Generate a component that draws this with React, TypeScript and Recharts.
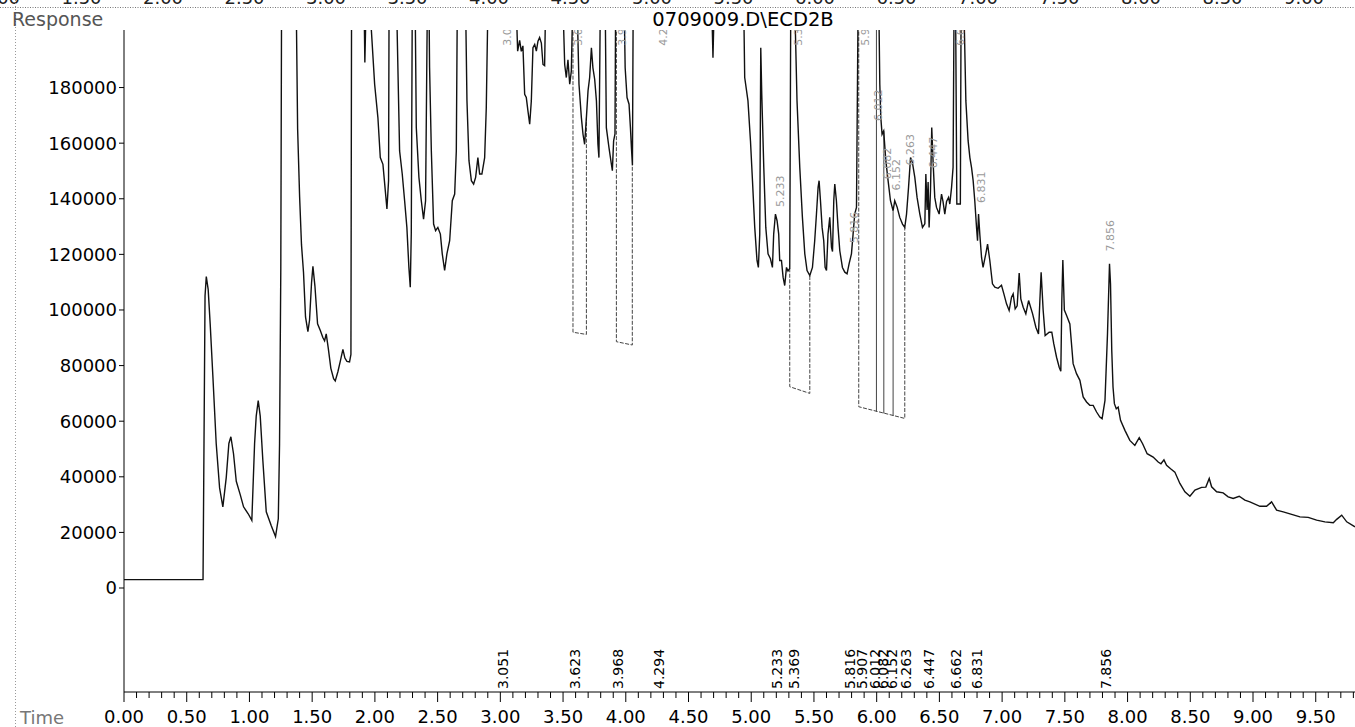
import { ComposedChart, Line, Scatter, XAxis, YAxis } from "recharts";

// ECD2B trace: retention time (min) and detector response
const traceTime = [
  0.0, 0.63, 0.646, 0.656, 0.671, 0.687, 0.708, 0.735, 0.762, 0.788,
  0.815, 0.836, 0.852, 0.873, 0.895, 0.927, 0.953, 0.99, 1.019, 1.041,
  1.054, 1.07, 1.086, 1.107, 1.134, 1.174, 1.208, 1.23, 1.24, 1.25,
  1.256, 1.312, 1.373, 1.384, 1.4, 1.415, 1.431, 1.447, 1.466, 1.479,
  1.495, 1.506, 1.522, 1.543, 1.565, 1.585, 1.599, 1.612, 1.628, 1.649,
  1.671, 1.684, 1.705, 1.724, 1.745, 1.761, 1.777, 1.798, 1.809, 1.814,
  1.862, 1.914, 1.92, 1.93, 1.941, 1.966, 1.998, 2.024, 2.043, 2.064,
  2.077, 2.096, 2.109, 2.113, 2.141, 2.173, 2.197, 2.218, 2.237, 2.255,
  2.271, 2.282, 2.29, 2.298, 2.309, 2.321, 2.33, 2.351, 2.37, 2.388,
  2.404, 2.415, 2.425, 2.436, 2.45, 2.468, 2.484, 2.502, 2.522, 2.537,
  2.556, 2.574, 2.596, 2.617, 2.636, 2.649, 2.657, 2.691, 2.723, 2.734,
  2.75, 2.769, 2.787, 2.803, 2.821, 2.835, 2.853, 2.875, 2.888, 2.901,
  3.051, 3.126, 3.138, 3.154, 3.167, 3.18, 3.194, 3.207, 3.22, 3.234,
  3.247, 3.26, 3.274, 3.287, 3.3, 3.313, 3.327, 3.34, 3.353, 3.361,
  3.433, 3.499, 3.513, 3.526, 3.539, 3.553, 3.566, 3.577, 3.592, 3.612,
  3.627, 3.646, 3.659, 3.672, 3.686, 3.699, 3.712, 3.726, 3.738, 3.752,
  3.766, 3.778, 3.786, 3.797, 3.816, 3.836, 3.845, 3.866, 3.885, 3.893,
  3.903, 3.914, 3.919, 3.968, 3.987, 3.995, 4.01, 4.026, 4.037, 4.045,
  4.053, 4.059, 4.294, 4.685, 4.695, 4.705, 4.829, 4.94, 4.948, 4.974,
  4.994, 5.01, 5.028, 5.046, 5.057, 5.068, 5.076, 5.084, 5.1, 5.116,
  5.134, 5.153, 5.169, 5.179, 5.193, 5.206, 5.219, 5.227, 5.241, 5.254,
  5.267, 5.281, 5.293, 5.307, 5.315, 5.331, 5.347, 5.365, 5.387, 5.408,
  5.427, 5.445, 5.467, 5.488, 5.506, 5.52, 5.533, 5.541, 5.552, 5.565,
  5.578, 5.589, 5.6, 5.612, 5.626, 5.64, 5.648, 5.658, 5.666, 5.679,
  5.692, 5.706, 5.727, 5.746, 5.764, 5.78, 5.799, 5.812, 5.825, 5.839,
  5.852, 5.907, 6.017, 6.025, 6.033, 6.043, 6.056, 6.073, 6.091, 6.11,
  6.131, 6.144, 6.163, 6.184, 6.206, 6.224, 6.238, 6.254, 6.27, 6.285,
  6.304, 6.322, 6.344, 6.365, 6.384, 6.392, 6.402, 6.41, 6.418, 6.429,
  6.439, 6.45, 6.463, 6.477, 6.498, 6.517, 6.529, 6.543, 6.557, 6.573,
  6.583, 6.597, 6.609, 6.617, 6.623, 6.629, 6.639, 6.667, 6.673, 6.683,
  6.695, 6.711, 6.729, 6.743, 6.756, 6.769, 6.782, 6.796, 6.804, 6.812,
  6.822, 6.836, 6.848, 6.87, 6.884, 6.902, 6.923, 6.942, 6.968, 6.995,
  7.014, 7.035, 7.056, 7.075, 7.088, 7.104, 7.12, 7.136, 7.149, 7.168,
  7.189, 7.211, 7.243, 7.269, 7.29, 7.301, 7.311, 7.327, 7.343, 7.375,
  7.396, 7.412, 7.434, 7.455, 7.468, 7.476, 7.484, 7.496, 7.514, 7.54,
  7.566, 7.593, 7.62, 7.646, 7.673, 7.699, 7.726, 7.753, 7.779, 7.797,
  7.82, 7.84, 7.856, 7.864, 7.874, 7.884, 7.895, 7.91, 7.925, 7.944,
  7.979, 8.018, 8.058, 8.093, 8.12, 8.156, 8.204, 8.244, 8.266, 8.29,
  8.311, 8.343, 8.377, 8.417, 8.457, 8.497, 8.537, 8.59, 8.624, 8.651,
  8.67, 8.71, 8.762, 8.802, 8.842, 8.89, 8.935, 8.975, 9.055, 9.108,
  9.148, 9.188, 9.241, 9.308, 9.374, 9.44, 9.507, 9.573, 9.64, 9.667,
  9.707, 9.747, 9.813,
];

const traceResponse = [
  3000, 3000, 105000, 112000, 107400, 95000, 76600, 52000, 36000, 29200,
  39700, 52000, 54400, 48300, 38400, 33500, 29200, 26700, 24300, 52000,
  61800, 67400, 61800, 45800, 27400, 22400, 18500, 24900, 52000, 115000,
  210000, 400000, 210000, 165200, 140600, 123400, 113500, 97500, 92200, 96300,
  109800, 115700, 108600, 95000, 92600, 90100, 88900, 91400, 86400, 79000,
  75300, 74500, 77800, 81500, 85800, 82700, 81500, 81300, 84000, 210000,
  350000, 210000, 189000, 210000, 250000, 205000, 181200, 169200, 154800, 152400,
  145900, 136300, 146500, 210000, 300000, 210000, 157200, 148900, 139300, 129700,
  115300, 108200, 127400, 210000, 260000, 210000, 165600, 147700, 139300, 132700,
  139300, 194300, 240000, 187100, 157200, 130900, 128500, 129700, 127300, 120200,
  114200, 120200, 124900, 139300, 141700, 157200, 210000, 320000, 210000, 175200,
  153700, 146500, 145300, 147700, 154800, 148900, 148900, 154800, 172800, 210000,
  400000, 210000, 193100, 197000, 193000, 195000, 177600, 176400, 171600, 166800,
  175200, 194300, 195500, 193100, 196700, 198000, 196000, 188300, 187900, 210000,
  300000, 210000, 188300, 183600, 190000, 181200, 186000, 210000, 260000, 210000,
  181200, 169200, 163200, 159600, 169200, 178800, 183600, 194300, 187100, 183000,
  175200, 159600, 154800, 210000, 280000, 210000, 165600, 158400, 152500, 150100,
  160800, 163300, 210000, 320000, 210000, 187100, 176400, 174000, 165600, 158400,
  152000, 210000, 450000, 210000, 190700, 210000, 350000, 210000, 183600, 175200,
  160800, 146500, 129700, 117800, 115300, 127300, 194300, 177600, 151300, 129700,
  120200, 118400, 115300, 127300, 134500, 132100, 127300, 117800, 117800, 111800,
  108800, 115300, 114000, 115000, 210000, 260000, 210000, 175200, 151300, 133300,
  120200, 114200, 112400, 115300, 124900, 134500, 144100, 146500, 139300, 129700,
  124900, 115300, 114200, 127300, 133300, 122500, 121000, 139300, 145300, 139300,
  129700, 121300, 115300, 113600, 113000, 116600, 120200, 127300, 134500, 136900,
  210000, 450000, 210000, 181200, 169200, 163200, 164400, 153700, 146500, 139300,
  135700, 139300, 137000, 133300, 130900, 129700, 134500, 144100, 154800, 153000,
  147700, 140500, 134500, 129700, 131000, 148900, 136000, 146000, 129700, 143000,
  165600, 153000, 140500, 136900, 134500, 141700, 139000, 134500, 139000, 140500,
  138100, 144100, 151300, 210000, 260000, 210000, 138100, 138100, 210000, 300000,
  210000, 175200, 160800, 154800, 151300, 146500, 139300, 129700, 124900, 134500,
  127300, 118900, 115300, 120200, 123700, 117800, 109400, 108200, 107800, 108900,
  105800, 102200, 99800, 104600, 105800, 100400, 101500, 113300, 104000, 101000,
  98600, 103400, 98600, 93800, 91400, 103400, 113600, 100000, 90800, 92000,
  92000, 87800, 83000, 79400, 78000, 103400, 118000, 100000, 98000, 95000,
  80700, 77100, 74700, 68700, 66900, 65700, 65700, 63300, 61500, 60900,
  67500, 91400, 116600, 109400, 85400, 72300, 66300, 64500, 65100, 60300,
  56700, 53100, 51300, 54100, 51900, 48300, 47100, 45300, 44700, 46100,
  44100, 42900, 41700, 37600, 34600, 33000, 35200, 36200, 36300, 39400,
  36400, 34600, 34200, 32800, 32200, 33000, 31600, 31000, 29400, 29400,
  31000, 28000, 27400, 26500, 25600, 25400, 24400, 23800, 23500, 24700,
  26200, 23800, 22000,
];

// integrated peaks (retention times printed on the time axis)
const peakTimes = [
  3.051, 3.623, 3.968, 4.294, 5.233, 5.369, 5.816, 5.907,
  6.012, 6.082, 6.152, 6.263, 6.447, 6.662, 6.831, 7.856,
];
// response level under each peak's small tag near the trace
const peakTagLevel = [
  195000, 195000, 195000, 195000, 137000, 195000, 124000, 195000,
  168000, 147000, 143000, 152000, 151000, 195000, 138500, 121000,
];

// integration windows: drop lines and baselines
const windowStart = [3.579, 3.925, 5.307, 5.857];
const windowEnd = [3.686, 4.052, 5.467, 6.224];
const baseAtStart = [92000, 88600, 72400, 65200];
const baseAtEnd = [91200, 87400, 70000, 61000];
const dropTopStart = [210000, 210000, 115000, 210000];
const dropTopEnd = [169200, 152000, 112400, 129700];

// extra drop lines inside the last window
const splitTime = [5.998, 6.057, 6.131];
const splitBase = [63400, 62800, 61900];
const splitTop = [210000, 164400, 135700];

const responseTicks = [0, 20000, 40000, 60000, 80000, 100000, 120000, 140000, 160000, 180000];
const timeTicks = Array.from({ length: 99 }, (_, i) => i / 10);
const Y_MIN = -37400;
const Y_MAX = 200700;
const T_MAX = 9.813;

// labels of the axis above, cut off by the page edge
const upperAxisLabels = [
  "1.00", "1.50", "2.00", "2.50", "3.00", "3.50", "4.00", "4.50", "5.00",
  "5.50", "6.00", "6.50", "7.00", "7.50", "8.00", "8.50", "9.00",
];

const trace = traceTime.map((t, i) => ({ t, v: traceResponse[i] }));

const windows = windowStart.map((s, i) => [
  { t: s, v: dropTopStart[i] },
  { t: s, v: baseAtStart[i] },
  { t: windowEnd[i], v: baseAtEnd[i] },
  { t: windowEnd[i], v: dropTopEnd[i] },
]);

const splits = splitTime.map((t, i) => [
  { t, v: splitBase[i] },
  { t, v: splitTop[i] },
]);

const axisMarks = peakTimes.map((t) => ({ t, v: Y_MIN, label: t.toFixed(3) }));
const peakTags = peakTimes.map((t, i) => ({ t, v: peakTagLevel[i], label: t.toFixed(3) }));

const TimeTick = (props: any) => {
  const { x, y, payload } = props;
  const major = Math.round(payload.value * 10) % 5 === 0;
  return (
    <g>
      <line x1={x} y1={y} x2={x} y2={y + (major ? 10 : 6)} stroke="#000" strokeWidth={1} />
      {major && (
        <text x={x} y={y + 31} textAnchor="middle" fontSize={18} fill="#000">
          {payload.value.toFixed(2)}
        </text>
      )}
    </g>
  );
};

const AxisRtLabel = (props: any) => {
  const { cx, cy, payload } = props;
  return (
    <text transform={`translate(${cx + 1.5},${cy - 3}) rotate(-90)`} fontSize={14} fill="#000">
      {payload.label}
    </text>
  );
};

const PeakTag = (props: any) => {
  const { cx, cy, payload } = props;
  return (
    <text transform={`translate(${cx + 4},${cy}) rotate(-90)`} fontSize={11} fill="#9a9a9a">
      {payload.label}
    </text>
  );
};

export default function App() {
  return (
    <div
      style={{
        position: "absolute",
        left: 0,
        top: 0,
        width: 1355,
        height: 727,
        background: "#fff",
        fontFamily: '"DejaVu Sans", sans-serif',
      }}
    >
      <ComposedChart width={1355} height={727} margin={{ top: 30, right: 0, bottom: 0, left: 0 }}>
        <XAxis
          type="number"
          dataKey="t"
          domain={[0, T_MAX]}
          allowDataOverflow
          ticks={timeTicks}
          interval={0}
          height={35}
          tickSize={0}
          tickMargin={0}
          tickLine={false}
          axisLine={{ stroke: "#000" }}
          tick={<TimeTick />}
        />
        <YAxis
          type="number"
          domain={[Y_MIN, Y_MAX]}
          allowDataOverflow
          ticks={responseTicks}
          interval={0}
          width={124}
          tickSize={5}
          tickMargin={2}
          axisLine={{ stroke: "#000" }}
          tickLine={{ stroke: "#000" }}
          tick={{ fill: "#000", fontSize: 18 }}
        />
        {windows.map((d, i) => (
          <Line
            key={`w${i}`}
            data={d}
            dataKey="v"
            type="linear"
            stroke="#444"
            strokeWidth={1}
            strokeDasharray="4 1.5"
            dot={false}
            isAnimationActive={false}
          />
        ))}
        {splits.map((d, i) => (
          <Line
            key={`s${i}`}
            data={d}
            dataKey="v"
            type="linear"
            stroke="#444"
            strokeWidth={1}
            dot={false}
            isAnimationActive={false}
          />
        ))}
        <Line
          data={trace}
          dataKey="v"
          type="linear"
          stroke="#111"
          strokeWidth={1.4}
          dot={false}
          isAnimationActive={false}
        />
        <Scatter data={peakTags} dataKey="v" shape={PeakTag} isAnimationActive={false} />
        <Scatter data={axisMarks} dataKey="v" shape={AxisRtLabel} isAnimationActive={false} />
      </ComposedChart>
      <svg
        width={1355}
        height={727}
        style={{ position: "absolute", left: 0, top: 0, pointerEvents: "none" }}
      >
        {upperAxisLabels.map((s, i) => (
          <text key={s} x={i * 81.5} y={4} textAnchor="middle" fontSize={18} fill="#222">
            {s}
          </text>
        ))}
        <line x1={0} y1={7.5} x2={1355} y2={7.5} stroke="#777" strokeDasharray="1 1.5" />
        <line x1={15.5} y1={0} x2={15.5} y2={727} stroke="#999" strokeDasharray="1 2" />
        <text x={12} y={26} fontSize={19} fill="#555">
          Response
        </text>
        <text x={743} y={26} fontSize={19.5} textAnchor="middle" fill="#000">
          {"0709009.D\\ECD2B"}
        </text>
        <text x={20} y={724} fontSize={18} fill="#777">
          Time
        </text>
      </svg>
    </div>
  );
}
